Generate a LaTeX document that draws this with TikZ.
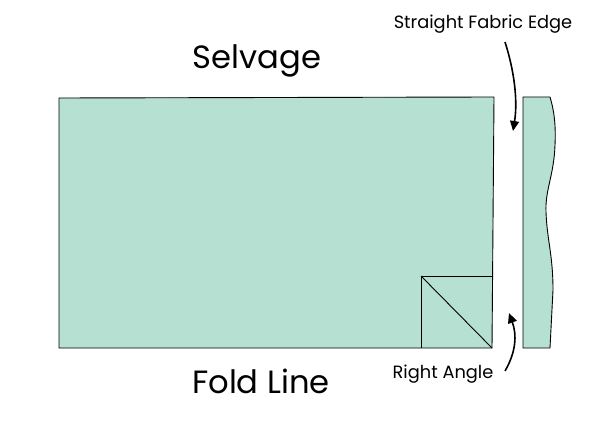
\documentclass[tikz,border=0pt]{standalone}
\usepackage{fontspec}
\setmainfont{Poppins}
\usetikzlibrary{arrows.meta}
\definecolor{mint}{HTML}{B6E0D1}
\tikzset{
  fabric/.style={fill=mint, draw=black, line width=0.9pt, line join=miter},
  guide/.style={draw=black, line width=0.9pt},
  callout/.style={draw=black, line width=1.6pt, -{Triangle[length=10pt,width=9pt]}},
  bigtext/.style={font=\fontsize{32.2}{37}\selectfont, inner sep=0pt},
  smalltext/.style={font=\fontsize{17.8}{21}\selectfont, inner sep=0pt}
}
\begin{document}
\begin{tikzpicture}[x=1pt,y=-1pt]
\useasboundingbox (0,0) rectangle (596,446);
% main fabric piece
\path[fabric] (59,98) coordinate (tl) -- (494,97) coordinate (tr) -- (492,348) coordinate (br) -- (59,348) coordinate (bl) -- cycle;
% right angle square
\coordinate (sqtl) at (421,276);
\coordinate (sqtr) at (492.6,276);
\coordinate (sqbl) at (421,348);
\draw[guide] (sqbl) -- (sqtl) -- (sqtr);
\draw[guide] (sqtl) -- (br);
% fabric strip with wavy edge
\path[fabric] (523,97) coordinate (stl) -- (550,97) coordinate (str)
  .. controls (554,110) and (556,125) .. (555,145)
  .. controls (554,175) and (545,190) .. (546,212)
  .. controls (547,240) and (553,255) .. (553,290)
  -- (550,348) coordinate (sbr) -- (523,348) coordinate (sbl) -- cycle;
% labels
\node[bigtext] (selv) at (257,61) {Selvage};
\node[bigtext] (fold) at (261,381) {Fold Line};
\node[smalltext] (edge) at (483,24) {Straight Fabric Edge};
\node[smalltext] (angle) at (443,374) {Right Angle};
% callout arrows
\coordinate (edgeTip) at (513,131);
\coordinate (angleTip) at (509,313);
\draw[callout] (505,42) .. controls (514,70) and (518,100) .. (edgeTip);
\draw[callout] (505,371) .. controls (516,352) and (517,335) .. (angleTip);
\end{tikzpicture}
\end{document}
